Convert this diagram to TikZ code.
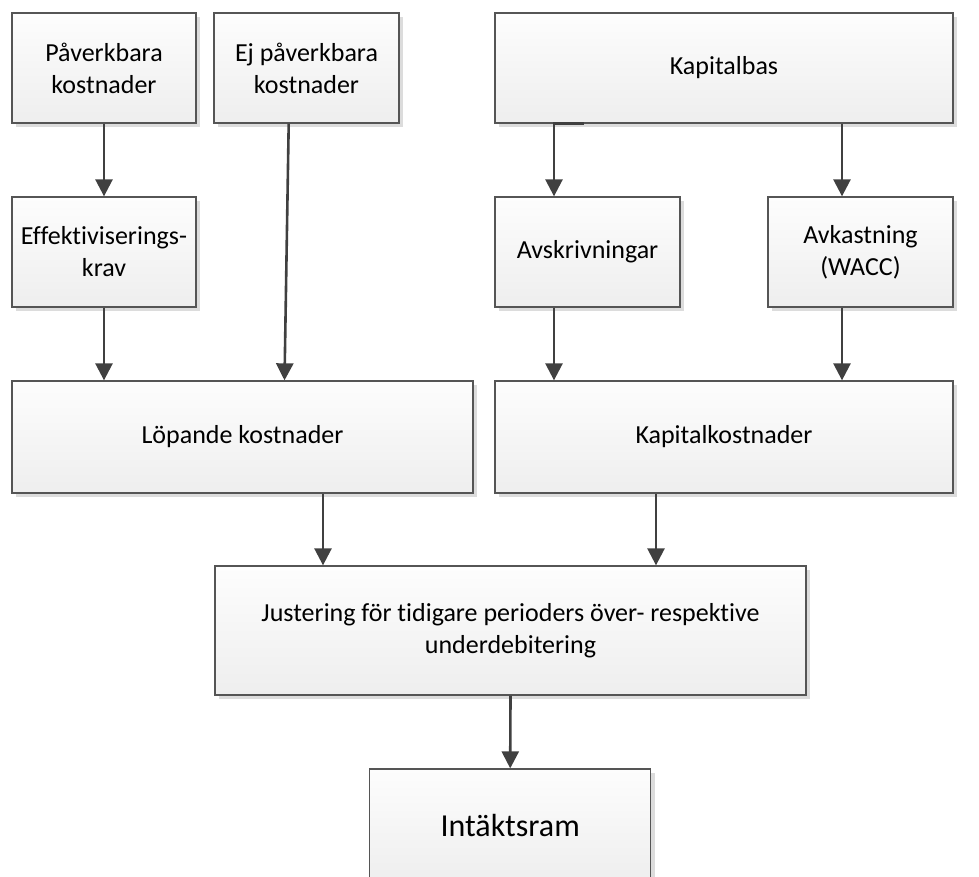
\documentclass[tikz,border=0pt]{standalone}
\usepackage{fontspec}
\setmainfont{Carlito}[Ligatures={NoCommon}]
\usetikzlibrary{arrows.meta,shadows}
\definecolor{boxline}{HTML}{555555}
\definecolor{arrline}{HTML}{404040}
\definecolor{boxtop}{HTML}{FDFDFD}
\definecolor{boxbot}{HTML}{EEEEEE}
\definecolor{shadowc}{HTML}{DCDCDC}
\tikzset{
  box/.style={draw=boxline, line width=1.3pt, rectangle, inner sep=0pt,
    top color=boxtop, bottom color=boxbot, align=center,
    font=\fontsize{26}{32}\selectfont,
    general shadow={fill=shadowc, shadow xshift=4pt, shadow yshift=-4pt}},
  arr/.style={draw=arrline, line width=2.6pt, -{Triangle[width=17pt,length=17pt]}},
}
\begin{document}
\begin{tikzpicture}[x=1pt,y=-1pt]
\useasboundingbox (0,0) rectangle (979,877);
% nodes (pixel coordinates, y downward)
\node[box, minimum width=184pt, minimum height=110pt] (pa) at (104,68) {Påverkbara\\kostnader};
\node[box, minimum width=185pt, minimum height=110pt] (ej) at (306.5,68) {Ej påverkbara\\kostnader};
\node[box, minimum width=458pt, minimum height=110pt] (kb) at (724,68) {Kapitalbas};
\node[box, minimum width=184pt, minimum height=110pt] (ef) at (104,252) {Effektiviserings-\\krav};
\node[box, minimum width=185pt, minimum height=110pt] (av) at (587.5,252) {Avskrivningar};
\node[box, minimum width=185pt, minimum height=110pt] (ak) at (860.5,252) {Avkastning\\(WACC)};
\node[box, minimum width=461pt, minimum height=112pt] (lo) at (242.5,437) {Löpande kostnader};
\node[box, minimum width=458pt, minimum height=112pt] (kk) at (724,437) {Kapitalkostnader};
\node[box, minimum width=591pt, minimum height=129pt] (ju) at (510.5,630.5) {Justering för tidigare perioders över- respektive\\underdebitering};
\node[box, minimum width=281pt, minimum height=112pt, font=\fontsize{32}{38}\selectfont] (in) at (510.2,825) {Intäktsram};
% helper x positions
\coordinate (xej) at (288.7,0);
\coordinate (xlo) at (284.5,0);
\coordinate (xa) at (584,0);
\coordinate (xb) at (554,0);
\coordinate (xc) at (842,0);
\coordinate (xd) at (323,0);
\coordinate (xe) at (656,0);
% connectors
\draw[arr] (pa.south) -- (ef.north);
\draw[arr] (ef.south) -- (ef.south |- lo.north);
\draw[arr] (ej.south -| xej) -- (lo.north -| xlo);
\draw[arr] (kb.south -| xa) -- (kb.south -| xb) -- (av.north -| xb);
\draw[arr] (kb.south -| xc) -- (ak.north -| xc);
\draw[arr] (av.south -| xb) -- (kk.north -| xb);
\draw[arr] (ak.south -| xc) -- (kk.north -| xc);
\draw[arr] (lo.south -| xd) -- (ju.north -| xd);
\draw[arr] (kk.south -| xe) -- (ju.north -| xe);
\draw[arr] (ju.south) -- (in.north);
\end{tikzpicture}
\end{document}
